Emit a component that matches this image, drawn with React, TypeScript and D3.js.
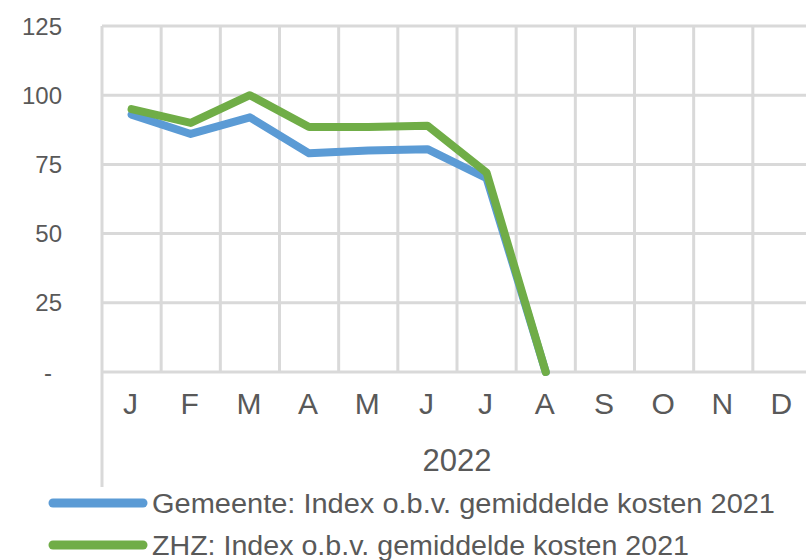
import React from "react";
import * as d3 from "d3";

const months = ["J", "F", "M", "A", "M", "J", "J", "A", "S", "O", "N", "D"];
const gemeente = [93, 86, 92, 79, 80, 80.5, 70, 0];
const zhz = [95, 90, 100, 88.5, 88.5, 89, 72, 0];
const yTicks = [0, 25, 50, 75, 100, 125];
const yearLabel = "2022";
const seriesNames = [
  "Gemeente: Index o.b.v. gemiddelde kosten 2021",
  "ZHZ: Index o.b.v. gemiddelde kosten 2021",
];
const seriesColors = ["#5B9BD5", "#70AD47"];

const W = 806;
const H = 560;
const left = 102;
const right = 812;
const top = 26;
const bottom = 372;
const font = "'Liberation Sans', Arial, sans-serif";
const textColor = "#595959";
const gridColor = "#D9D9D9";

export default function App() {
  const x = d3.scaleBand<number>().domain(d3.range(months.length)).range([left, right]);
  const y = d3.scaleLinear().domain([0, 125]).range([bottom, top]);
  const line = d3
    .line<number>()
    .x((_, i) => (x(i) as number) + x.bandwidth() / 2)
    .y((d) => y(d));

  const series = [gemeente, zhz];

  return (
    <svg
      width={W}
      height={H}
      style={{ position: "absolute", left: 0, top: 0, background: "#fff" }}
    >
      {/* horizontal gridlines */}
      {yTicks.map((t) => (
        <line key={"h" + t} x1={left} x2={right} y1={y(t)} y2={y(t)} stroke={gridColor} strokeWidth={3} />
      ))}
      {/* vertical gridlines */}
      {months.map((_, i) =>
        i === 0 ? null : (
          <line
            key={"v" + i}
            x1={x(i) as number}
            x2={x(i) as number}
            y1={top}
            y2={bottom}
            stroke={gridColor}
            strokeWidth={3}
          />
        )
      )}
      {/* left axis line extended for category group */}
      <line x1={left} x2={left} y1={top} y2={487} stroke={gridColor} strokeWidth={3} />

      {/* y tick labels */}
      {yTicks.map((t) => (
        <text
          key={"yl" + t}
          x={t === 0 ? 52 : 62}
          y={y(t)}
          textAnchor="end"
          dominantBaseline="central"
          fontFamily={font}
          fontSize={24}
          fill={textColor}
        >
          {t === 0 ? "-" : String(t)}
        </text>
      ))}

      {/* month labels */}
      {months.map((m, i) => (
        <text
          key={"m" + i}
          x={(x(i) as number) + x.bandwidth() / 2 - 1}
          y={414}
          textAnchor="middle"
          fontFamily={font}
          fontSize={30}
          fill={textColor}
        >
          {m}
        </text>
      ))}
      <text x={457} y={471} textAnchor="middle" fontFamily={font} fontSize={31} fill={textColor}>
        {yearLabel}
      </text>

      {/* lines */}
      {series.map((s, k) => (
        <path
          key={"s" + k}
          d={line(s) || ""}
          fill="none"
          stroke={seriesColors[k]}
          strokeWidth={8}
          strokeLinejoin="round"
          strokeLinecap="round"
        />
      ))}

      {/* legend */}
      {seriesNames.map((n, k) => {
        const cy = 503 + k * 42;
        return (
          <g key={"lg" + k}>
            <line x1={53} x2={143} y1={cy} y2={cy} stroke={seriesColors[k]} strokeWidth={9} strokeLinecap="round" />
            <text
              x={152}
              y={cy + 10}
              fontFamily={font}
              fontSize={27}
              fill={textColor}
              textLength={k === 0 ? 623 : 537}
              lengthAdjust="spacingAndGlyphs"
            >
              {n}
            </text>
          </g>
        );
      })}
    </svg>
  );
}
